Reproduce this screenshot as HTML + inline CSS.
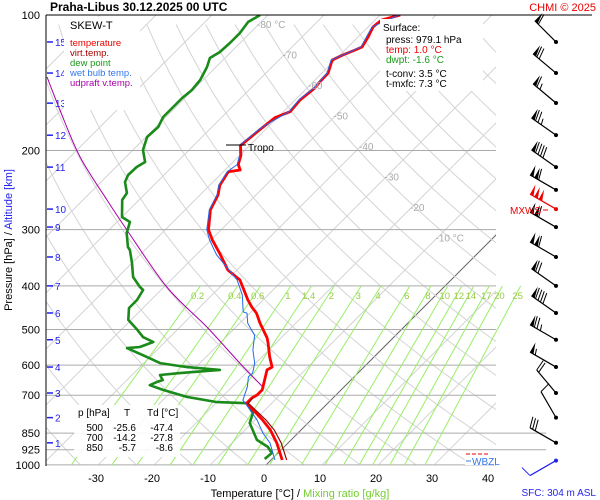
<!DOCTYPE html>
<html><head><meta charset="utf-8"><style>
html,body{margin:0;padding:0;background:#fff;}
svg{display:block;font-family:"Liberation Sans",sans-serif;}
</style></head><body>
<svg id="chart" width="600" height="500" viewBox="0 0 600 500" xmlns="http://www.w3.org/2000/svg">
<defs><clipPath id="plotClip"><rect x="46" y="15" width="450" height="450"/></clipPath></defs>
<rect width="600" height="500" fill="#fff"/>
<g id="grid" clip-path="url(#plotClip)"></g>
<g id="isobars"></g>
<g id="mixing"></g>
<g id="curves" clip-path="url(#plotClip)"></g>
<g id="labels"></g>
<g id="winds"></g>
<text x="50" y="11" font-size="12" font-weight="bold">Praha-Libus    30.12.2025 00 UTC</text>
<text x="596" y="11" font-size="11" fill="#e00" text-anchor="end">CHMI © 2025</text>
<line x1="46" y1="15" x2="592" y2="15" stroke="#000" stroke-width="1"/>
<line x1="46" y1="15" x2="46" y2="466" stroke="#000" stroke-width="1"/>
<g>
<rect x="64" y="17" width="76" height="93" fill="#fff"/>
<text x="70" y="29" font-size="11">SKEW-T</text>
<text x="70" y="46" font-size="9.5" fill="#e00">temperature</text>
<text x="70" y="56" font-size="9.5" fill="#a00">virt.temp.</text>
<text x="70" y="66" font-size="9.5" fill="#1a9a1a">dew point</text>
<text x="70" y="76" font-size="9.5" fill="#3377ee">wet bulb temp.</text>
<text x="70" y="86" font-size="9.5" fill="#aa00aa">udpraft v.temp.</text>
</g>
<g>
<rect x="380" y="19" width="103" height="72" fill="#fff"/>
<text x="383" y="31" font-size="10">Surface:</text>
<text x="386" y="43" font-size="10">press: 979.1 hPa</text>
<text x="386" y="53" font-size="10" fill="#e00">temp: 1.0 °C</text>
<text x="386" y="63" font-size="10" fill="#1a9a1a">dwpt: -1.6 °C</text>
<text x="386" y="77" font-size="10">t-conv: 3.5 °C</text>
<text x="386" y="87" font-size="10">t-mxfc: 7.3 °C</text>
</g>
<g>
<rect x="74" y="405" width="106" height="52" fill="#fff" fill-opacity="0.9"/>
<text x="78" y="416" font-size="10">p [hPa]</text><text x="127" y="416" font-size="10" text-anchor="middle">T</text><text x="147" y="416" font-size="10">Td [°C]</text>
<text x="103" y="431" font-size="10" text-anchor="end">500</text><text x="136" y="431" font-size="10" text-anchor="end">-25.6</text><text x="173" y="431" font-size="10" text-anchor="end">-47.4</text>
<text x="103" y="441" font-size="10" text-anchor="end">700</text><text x="136" y="441" font-size="10" text-anchor="end">-14.2</text><text x="173" y="441" font-size="10" text-anchor="end">-27.8</text>
<text x="103" y="451" font-size="10" text-anchor="end">850</text><text x="136" y="451" font-size="10" text-anchor="end">-5.7</text><text x="173" y="451" font-size="10" text-anchor="end">-8.6</text>
</g>
<g>
<rect x="465" y="452" width="42" height="13" fill="#fff"/>
<line x1="466" y1="454" x2="488" y2="454" stroke="#e00" stroke-width="1" stroke-dasharray="4,2"/>
<line x1="466" y1="461" x2="471" y2="461" stroke="#3377ee"/>
<text x="472" y="465" font-size="10" fill="#3377ee">WBZL</text>
</g>
<g>
<line x1="226" y1="145" x2="246" y2="145" stroke="#000"/>
<text x="248" y="151" font-size="10">Tropo</text>
</g>
<g>
<text x="510" y="214" font-size="10" fill="#e00">MXWS</text>
<line x1="543" y1="210" x2="548" y2="210" stroke="#e00"/>
</g>
<text transform="translate(12,240) rotate(-90)" font-size="11" text-anchor="middle"><tspan fill="#000">Pressure [hPa]  /  </tspan><tspan fill="#2222ee">Altitude [km]</tspan></text>
<text x="300" y="497" font-size="11" text-anchor="middle"><tspan fill="#000">Temperature [°C]  /  </tspan><tspan fill="#77cc33">Mixing ratio [g/kg]</tspan></text>
<text x="596" y="496" font-size="10" fill="#2222ee" text-anchor="end">SFC: 304 m ASL</text>
</svg>
<script>
// ---- data ----
const pressureTicks = [100,200,300,400,500,600,700,850,925,1000];
const tempTicks = [-30,-20,-10,0,10,20,30,40];
const isothermLabels = [-80,-70,-60,-50,-40,-30,-20,-10];
const altitudeKm = [1,2,3,4,5,6,7,8,9,10,11,12,13,14,15];
const altitudeP = [893,785,692,606,527,459.5,400,345,296,270,217.8,185,157,134.6,114.8];
const mixingRatios = [0.2,0.4,0.6,1,1.4,2,3,4,6,8,10,12,14,17,20,25];
const tempP = [100,102.6,106.3,111.9,117.8,119.6,122.7,125.9,134.6,140.9,145.3,154.5,164,169,178,190,195,205,215,221,223,239,251,271,300,316,341,369,388,430,446,460,484,522,536,576,606,615,648,681,699,710,729,755,795,836,894,975];
const tempT = [-56.4,-58.8,-59.1,-58.2,-57.5,-58.2,-59.5,-60.5,-58.9,-58.8,-58.6,-59.1,-58.8,-60.4,-60.9,-61.4,-61.6,-59.8,-58.6,-57.3,-59.1,-58.2,-56.8,-55.5,-52.3,-49.8,-45.7,-41.6,-37.7,-32.7,-30.7,-28.8,-26.4,-22.5,-21.4,-18.6,-16.4,-16.8,-15.4,-14.1,-14.1,-14.5,-14.5,-12.1,-8.6,-5.5,-2.0,2.0];
const virtP = [710,729,755,795,836,894,975];
const virtT = [-14.3,-14.2,-11.7,-8.0,-4.8,-1.2,2.8];
const wetP = [100,106.3,117.8,125.9,134.6,145.3,154.5,164,178,190,195,205,215,223,239,251,271,300,316,341,388,419,457,460,484,515,555,594,625,637,670,718,743,795,849,894,975];
const wetT = [-56.6,-59.3,-57.7,-60.7,-59.1,-58.8,-59.3,-59.0,-61.1,-61.6,-61.8,-60.0,-58.8,-59.3,-58.4,-57.0,-55.7,-52.6,-50.3,-46.4,-38.2,-34.6,-31.4,-30.5,-28.6,-25.2,-22.9,-20.2,-18.8,-18.9,-17.3,-15.7,-13.6,-9.6,-6.3,-3.2,0.7];
const dewP = [100,103.6,109.6,115.4,120.9,124.6,130.5,139.5,146.8,152.9,160.1,168.5,177.4,186.7,199.6,212.2,217.7,226.8,235.1,248.7,257.8,281.2,288.4,305.2,327.8,332.9,355.8,382.2,402.3,408.5,430,448,476,501,520,533,547,550,576,594,606,615,625,631,648,654,665,681,706,725,729,767,807,880,912,941,970];
const dewT = [-81.4,-82.3,-81.8,-81.8,-82.0,-82.7,-81.6,-80.5,-80.2,-80.5,-80.5,-80.5,-79.6,-79.8,-78.2,-75.7,-76.3,-76.4,-75.7,-73.4,-73.0,-70.0,-67.7,-66.3,-63.6,-62.7,-60.0,-57.3,-54.3,-53.2,-52.5,-52.5,-50.5,-47.1,-44.8,-42.1,-43.6,-45.7,-40.5,-37.1,-31.6,-25.2,-31.8,-35.0,-33.6,-34.3,-35.0,-31.8,-26.3,-20.0,-14.5,-11.6,-10.4,-6.1,-2.9,-1.1,-1.3];
const parcelP = [137.3,162.6,206.8,257.8,300.5,402.3,493.7,593.6,671];
const parcelT = [-108.4,-100.2,-88.2,-75.7,-66.8,-49.5,-35.2,-22.9,-14.5];
const windP = [114.8,134.6,156.9,184.9,217.8,244.8,270,296.2,345,400,459.5,527,606,692,785,893,978];
const windSpd = [60,70,65,75,90,110,150,110,110,70,90,75,55,20,10,30,10];
const windDir = [315,310,310,305,305,300,300,300,300,305,305,300,300,320,330,300,240];

// ---- axes ----
const Y0=15, YS=195.4, X0=266, XS=5.6;
function yP(p){return Y0+YS*Math.log(p/100);}
function xT(T,p){return X0+XS*T+(465-yP(p));}
const NS='http://www.w3.org/2000/svg';
function mk(tag,attrs,parent){const e=document.createElementNS(NS,tag);for(const k in attrs)e.setAttribute(k,attrs[k]);parent.appendChild(e);return e;}
function pathFrom(P,T){return P.map((p,i)=>(i?'L':'M')+xT(T[i],p).toFixed(1)+','+yP(p).toFixed(1)).join('');}
function smoothPath(P,T){
  const pts=P.map((p,i)=>[xT(T[i],p),yP(p)]);
  let d='M'+pts[0][0].toFixed(1)+','+pts[0][1].toFixed(1);
  for(let i=0;i<pts.length-1;i++){
    const p0=pts[Math.max(i-1,0)],p1=pts[i],p2=pts[i+1],p3=pts[Math.min(i+2,pts.length-1)];
    const c1=[p1[0]+(p2[0]-p0[0])/6,p1[1]+(p2[1]-p0[1])/6],c2=[p2[0]-(p3[0]-p1[0])/6,p2[1]-(p3[1]-p1[1])/6];
    d+='C'+c1.map(v=>v.toFixed(1))+' '+c2.map(v=>v.toFixed(1))+' '+p2.map(v=>v.toFixed(1));
  }
  return d;
}
const grid=document.getElementById('grid');
for(let T=-150;T<=50;T+=10){
  const l=mk('line',{x1:xT(T,1000),y1:yP(1000),x2:xT(T,100),y2:yP(100),stroke:T===0?'#666':'#d4d4d4','stroke-width':1},grid);
  
  
}
for(let th=230;th<=470;th+=10){
  let d='';
  for(let p=1050;p>=95;p-=15){const T=th*Math.pow(p/1000,0.286)-273.15;d+=(d?'L':'M')+xT(T,p).toFixed(1)+','+yP(p).toFixed(1);}
  const a=mk('path',{d:d,fill:'none',stroke:'#d4d4d4','stroke-width':1},grid);
  
  
}
const iso=document.getElementById('isobars'), lab=document.getElementById('labels');
pressureTicks.forEach(p=>{
  const xe=(p===850||p===925)?546:496;
  const l=mk('line',{x1:46,y1:yP(p),x2:xe,y2:yP(p),stroke:'#aaa','stroke-width':1},iso);
  
  
  const t=mk('text',{x:40,y:yP(p)+4,'font-size':11,'text-anchor':'end'},lab);
  t.textContent=p;
  
  
});
tempTicks.forEach(T=>{
  const t=mk('text',{x:xT(T,1000)-2,y:482,'font-size':11,'text-anchor':'middle'},lab);
  t.textContent=T;
  
  
});
isothermLabels.forEach((T,i)=>{
  const yy=28+i*30.5;const p=100*Math.exp((yy-Y0)/YS);
  const t=mk('text',{x:xT(T,p)+2,y:yy,'font-size':10,fill:'#aaa'},lab);
  t.textContent=(i===0||i===7)?T+' °C':T;
  
  
});
altitudeKm.forEach((k,i)=>{
  const y=yP(altitudeP[i]);
  const l=mk('line',{x1:47,y1:y,x2:53,y2:y,stroke:'#2222ee','stroke-width':1.5},lab);
  
  
  const t=mk('text',{x:55,y:y+4,'font-size':10,fill:'#2222ee'},lab);
  t.textContent=k;
  
  
});
const mix=document.getElementById('mixing');
function tdW(w,p){const e=w*p/(622+w);const a=Math.log(e/6.112);return 243.5*a/(17.67-a);}
mixingRatios.forEach(w=>{
  const l=mk('line',{x1:xT(tdW(w,1000),1000),y1:yP(1000),x2:xT(tdW(w,400),400),y2:yP(400),stroke:'#99ee66','stroke-width':1},mix);
  
  
  const t=mk('text',{x:xT(tdW(w,400),400)-3,y:299,'font-size':9.5,fill:'#99cc44','text-anchor':'middle'},mix);
  t.textContent=w;
  
  
});
const cv=document.getElementById('curves');
const parcel=mk('path',{d:smoothPath(parcelP,parcelT),fill:'none',stroke:'#aa00aa','stroke-width':1},cv);


const dew=mk('path',{d:pathFrom(dewP,dewT),fill:'none',stroke:'#1a8a1a','stroke-width':2.6,'stroke-linejoin':'round'},cv);


const temp=mk('path',{d:pathFrom(tempP,tempT),fill:'none',stroke:'#f00','stroke-width':2.8,'stroke-linejoin':'round'},cv);


const vt=mk('path',{d:pathFrom(virtP,virtT),fill:'none',stroke:'#990000','stroke-width':1.2},cv);


const wet=mk('path',{d:pathFrom(wetP,wetT),fill:'none',stroke:'#2266ee','stroke-width':1},cv);


const wg=document.getElementById('winds');
windP.forEach((p,i)=>{
  const y=yP(p), x=556, s=windSpd[i];
  const col=i===6?'#e00':(i===16?'#2222ee':'#000');
  const g=mk('g',{},wg);
  
  
  const a=(windDir[i])*Math.PI/180;
  const ux=Math.sin(a), uy=-Math.cos(a);
  const L=30, ex=x+ux*L, ey=y+uy*L;
  const px=uy, py=-ux;
  mk('line',{x1:x,y1:y,x2:ex,y2:ey,stroke:col,'stroke-width':1.2},g);
  mk('circle',{cx:x,cy:y,r:2,fill:col},g);
  let rem=Math.round(s/5)*5, pos=0;
  const fl=11;
  while(rem>=50){const bx=ex-ux*pos,by=ey-uy*pos;
    mk('polygon',{points:`${bx},${by} ${bx-px*fl},${by-py*fl} ${bx-ux*4},${by-uy*4}`,fill:col},g);pos+=5;rem-=50;}
  while(rem>=10){const bx=ex-ux*pos,by=ey-uy*pos;
    mk('line',{x1:bx,y1:by,x2:bx-px*fl+ux*3,y2:by-py*fl+uy*3,stroke:col,'stroke-width':1},g);pos+=3;rem-=10;}
  if(rem>=5){const bx=ex-ux*(pos+1),by=ey-uy*(pos+1);
    mk('line',{x1:bx,y1:by,x2:bx-px*6+ux*2,y2:by-py*6+uy*2,stroke:col,'stroke-width':1},g);}
});
</script>
</body></html>
